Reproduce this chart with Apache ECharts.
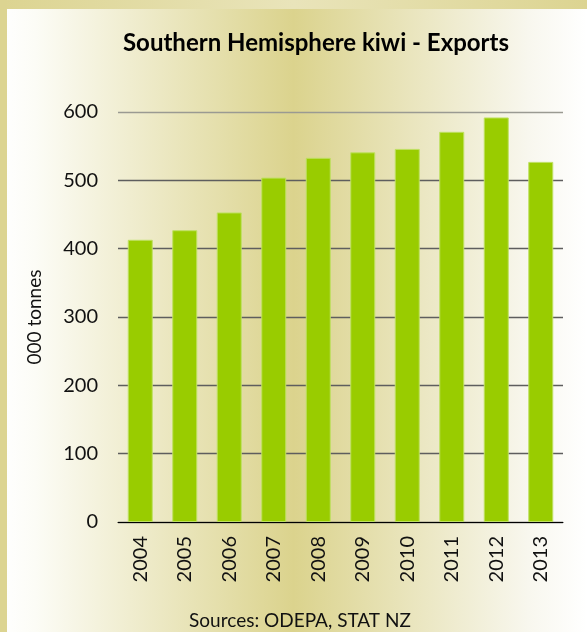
<!DOCTYPE html>
<html>
<head>
<meta charset="utf-8">
<title>Southern Hemisphere kiwi - Exports</title>
<script src="https://cdn.jsdelivr.net/npm/echarts@6/dist/echarts.min.js"></script>
<style>
  html, body { margin: 0; padding: 0; }
  #main { width: 587px; height: 632px; }
</style>
</head>
<body>
<div id="main"></div>
<script>
var years = ["2004","2005","2006","2007","2008","2009","2010","2011","2012","2013"];
var exports_list = [413, 427, 453, 504, 533, 541, 546, 571, 592, 527];
var y_ticks = [0, 100, 200, 300, 400, 500, 600];

var font = "Lato, 'Open Sans', sans-serif";

var myChart = echarts.init(document.getElementById('main'));

var option = {
    backgroundColor: {
        type: 'linear', x: 0, y: 0, x2: 1, y2: 0,
        colorStops: [
            { offset: 0, color: '#ffffff' },
            { offset: 0.06, color: '#fcfcf6' },
            { offset: 0.5, color: '#dbd38d' },
            { offset: 0.9, color: '#f8f7ee' },
            { offset: 1, color: '#ffffff' }
        ]
    },
    textStyle: { fontFamily: font },
    title: {
        text: 'Southern Hemisphere kiwi - Exports',
        left: 311,
        textAlign: 'center',
        top: 26,
        textStyle: { fontFamily: font, fontWeight: 'bold', fontSize: 24, color: '#000' }
    },
    graphic: [
        // frame strips on the top and left
        {
            type: 'rect', left: 0, top: 0, z: 10,
            shape: { width: 587, height: 9 },
            style: {
                fill: {
                    type: 'linear', x: 0, y: 0, x2: 1, y2: 0,
                    colorStops: [
                        { offset: 0, color: '#dcd491' },
                        { offset: 0.5, color: '#e9e4ba' },
                        { offset: 1, color: '#dcd491' }
                    ]
                }
            }
        },
        {
            type: 'rect', left: 0, top: 0, z: 10,
            shape: { width: 7, height: 632 },
            style: { fill: '#dcd491' }
        },
        {
            type: 'text', x: 300, y: 621, z: 10,
            style: {
                text: 'Sources: ODEPA, STAT NZ',
                textAlign: 'center',
                textVerticalAlign: 'middle',
                font: '19px ' + font,
                fill: '#111'
            }
        }
    ],
    grid: {
        left: 118,
        right: 24,
        top: 112,
        bottom: 110
    },
    xAxis: {
        type: 'category',
        data: years,
        axisLine: { lineStyle: { color: '#000', width: 1 } },
        axisTick: { length: 5, lineStyle: { color: '#000' } },
        axisLabel: {
            rotate: 90,
            margin: 14,
            fontSize: 20,
            color: '#111',
            fontFamily: font
        }
    },
    yAxis: {
        type: 'value',
        min: y_ticks[0],
        max: y_ticks[y_ticks.length - 1],
        interval: 100,
        name: '000 tonnes',
        nameLocation: 'middle',
        nameGap: 74,
        nameTextStyle: { fontSize: 19, color: '#111', fontFamily: font },
        axisLine: { show: false },
        axisTick: { show: false },
        axisLabel: { margin: 20, fontSize: 20, color: '#111', fontFamily: font },
        splitLine: {
            lineStyle: {
                color: ['#555', '#5e5e5e', '#5e5e5e', '#5e5e5e', '#5e5e5e', '#5e5e5e', '#9a9a92'],
                width: 1.4
            }
        }
    },
    series: [
        {
            type: 'bar',
            data: exports_list,
            barWidth: 25,
            itemStyle: {
                color: '#99cc00',
                borderColor: '#bfe062',
                borderWidth: 1
            }
        }
    ]
};

myChart.setOption(option);
</script>
</body>
</html>
